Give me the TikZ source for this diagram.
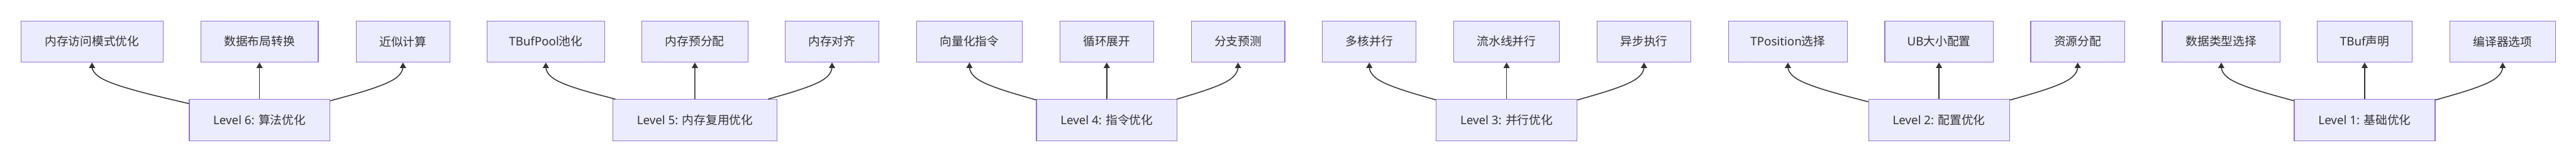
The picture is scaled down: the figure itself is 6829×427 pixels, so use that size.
\documentclass[tikz,border=0pt]{standalone}
\usepackage{fontspec}
\setmainfont{Noto Sans}
\newfontfamily\cjk{Noto Sans CJK SC}
\usetikzlibrary{arrows.meta,calc}
\definecolor{boxfill}{HTML}{ECECFF}
\definecolor{boxborder}{HTML}{9370DB}
\definecolor{linecol}{HTML}{333333}
\definecolor{textcol}{HTML}{333333}
\newcommand\zh[1]{{\cjk #1}}
\tikzset{
  box/.style={draw=boxborder, fill=boxfill, line width=2pt, minimum height=109pt,
    inner sep=0pt, text=textcol, font=\fontsize{31.25}{37}\selectfont},
  edge/.style={draw=linecol, line width=2.5pt, -{Triangle[length=14.5pt,width=16pt]}},
}
\newcommand\sideedge[2]{%
  \path (#2.south |- midrow) coordinate (M#2);
  \path (#1) -- (M#2) coordinate[pos=0] (S#2);
  \draw[edge] (S#2) -- ($(S#2)!1/6!(M#2)$)
    .. controls ($(S#2)!1/3!(M#2)$) and ($(S#2)!2/3!(M#2)$)
    .. ($0.16667*(S#2)+0.66667*(M#2)+0.16667*(#2.south)$)
    .. controls ($0.66667*(M#2)+0.33333*(#2.south)$) and ($0.33333*(M#2)+0.66667*(#2.south)$)
    .. ($0.16667*(M#2)+0.83333*(#2.south)$) -- (#2.south);
}
\begin{document}
\begin{tikzpicture}[x=1pt,y=-1pt]
\useasboundingbox[fill=white] (0,0) rectangle (6829,427);
\coordinate (midrow) at (0,213.8);
% Group 6
\node[box, minimum width=376.5pt] (a1) at (244,109.8) {\zh{内存访问模式优化}};
\node[box, minimum width=311.5pt] (a2) at (688,109.8) {\zh{数据布局转换}};
\node[box, minimum width=248.5pt] (a3) at (1068.3,109.8) {\zh{近似计算}};
\node[box, minimum width=372.5pt] (L6) at (688,317.7) {Level 6: \zh{算法优化}};
% Group 5
\node[box, minimum width=311pt] (b1) at (1447,109.8) {TBufPool\zh{池化}};
\node[box, minimum width=281pt] (b2) at (1842,109.8) {\zh{内存预分配}};
\node[box, minimum width=248.6pt] (b3) at (2205.7,109.8) {\zh{内存对齐}};
\node[box, minimum width=435.7pt] (L5) at (1842.3,317.7) {Level 5: \zh{内存复用优化}};
% Group 4
\node[box, minimum width=280pt] (c1) at (2570,109.8) {\zh{向量化指令}};
\node[box, minimum width=248.6pt] (c2) at (2934,109.8) {\zh{循环展开}};
\node[box, minimum width=248pt] (c3) at (3282,109.8) {\zh{分支预测}};
\node[box, minimum width=372.6pt] (L4) at (2934,317.7) {Level 4: \zh{指令优化}};
% Group 3
\node[box, minimum width=248.7pt] (d1) at (3630,109.8) {\zh{多核并行}};
\node[box, minimum width=281pt] (d2) at (3994,109.8) {\zh{流水线并行}};
\node[box, minimum width=248.6pt] (d3) at (4358.3,109.8) {\zh{异步执行}};
\node[box, minimum width=373.3pt] (L3) at (3994,317.7) {Level 3: \zh{并行优化}};
% Group 2
\node[box, minimum width=314.6pt] (e1) at (4739.7,109.8) {TPosition\zh{选择}};
\node[box, minimum width=287.5pt] (e2) at (5140.3,109.8) {UB\zh{大小配置}};
\node[box, minimum width=249.3pt] (e3) at (5508,109.8) {\zh{资源分配}};
\node[box, minimum width=373.3pt] (L2) at (5140.3,317.7) {Level 2: \zh{配置优化}};
% Group 1
\node[box, minimum width=313pt] (f1) at (5888.5,109.8) {\zh{数据类型选择}};
\node[box, minimum width=251.3pt] (f2) at (6268.7,109.8) {TBuf\zh{声明}};
\node[box, minimum width=281pt] (f3) at (6634.5,109.8) {\zh{编译器选项}};
\node[box, minimum width=373.4pt] (L1) at (6268.7,317.7) {Level 1: \zh{基础优化}};
% Edges
\sideedge{L6}{a1} \draw[edge] (L6) -- (a2); \sideedge{L6}{a3}
\sideedge{L5}{b1} \draw[edge] (L5) -- (b2); \sideedge{L5}{b3}
\sideedge{L4}{c1} \draw[edge] (L4) -- (c2); \sideedge{L4}{c3}
\sideedge{L3}{d1} \draw[edge] (L3) -- (d2); \sideedge{L3}{d3}
\sideedge{L2}{e1} \draw[edge] (L2) -- (e2); \sideedge{L2}{e3}
\sideedge{L1}{f1} \draw[edge] (L1) -- (f2); \sideedge{L1}{f3}
\end{tikzpicture}
\end{document}
